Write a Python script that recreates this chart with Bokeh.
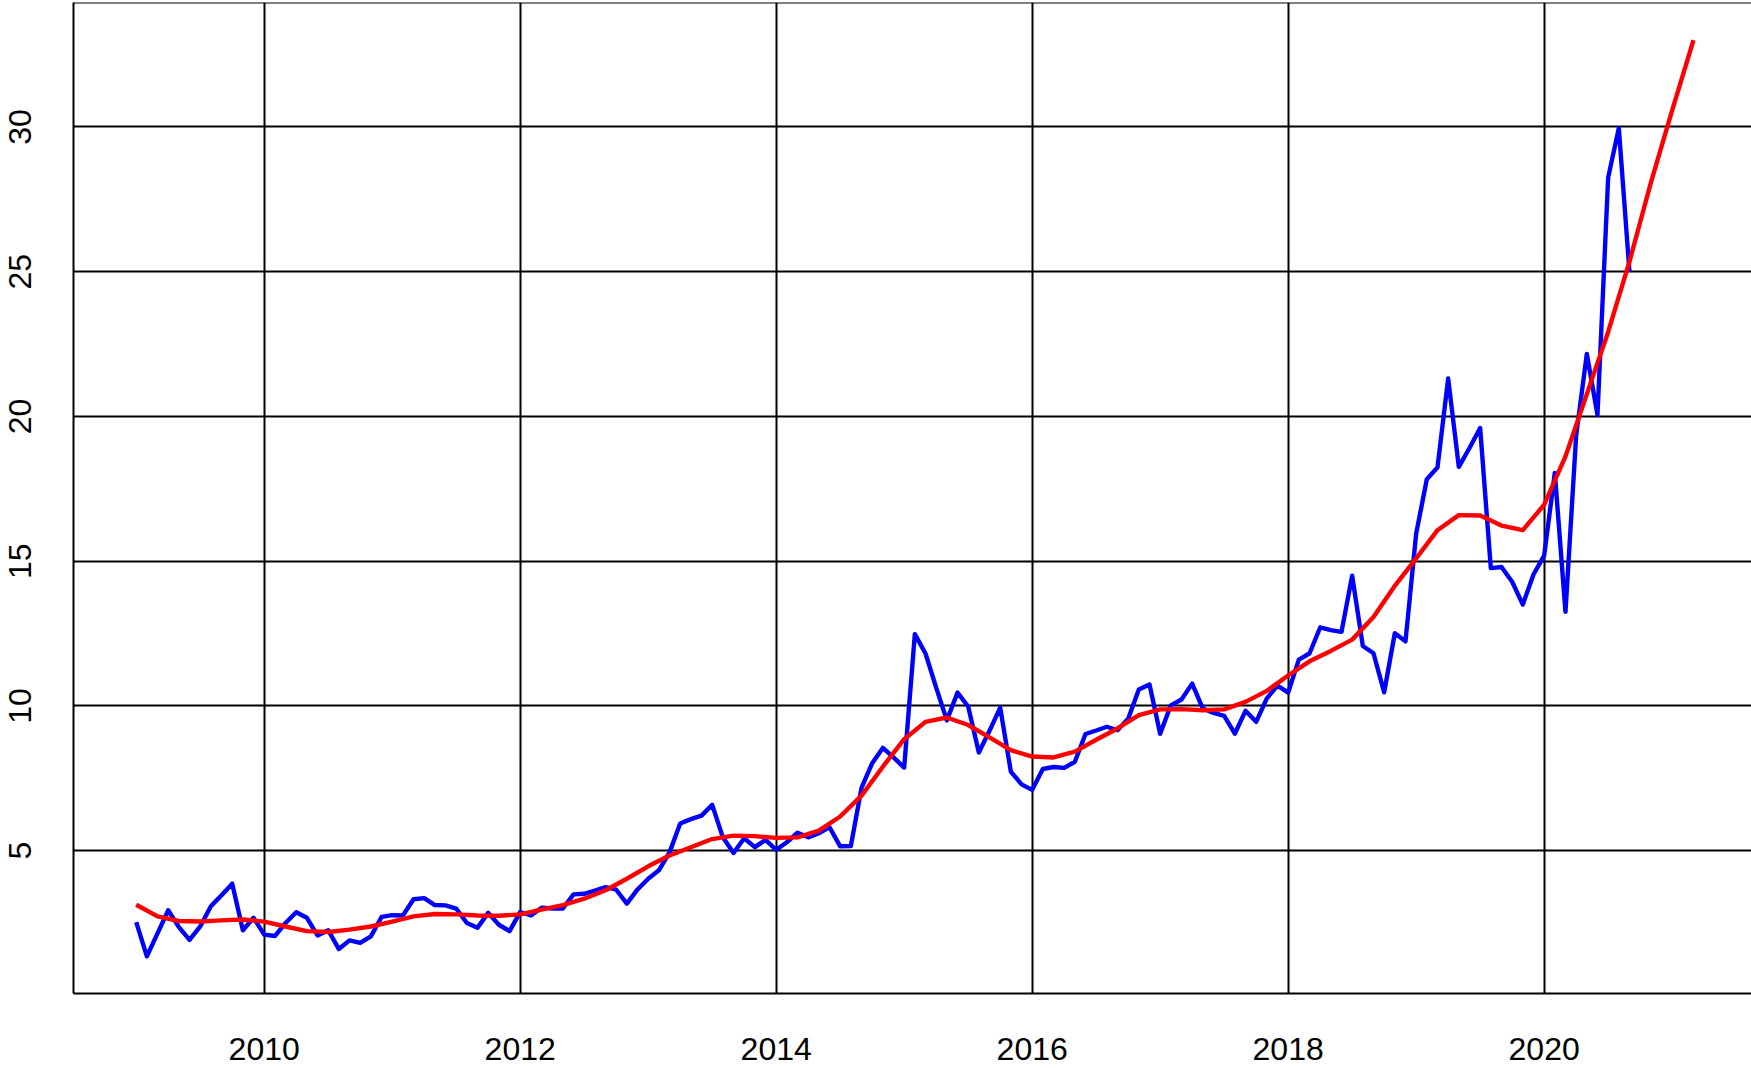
from bokeh.plotting import figure
from bokeh.models import FixedTicker, Span, Range1d
from bokeh.embed import file_html
from bokeh.resources import INLINE

# ---- data ----
start_year = 2009
monthly_values = [
    2.53, 1.35, 2.14, 2.94, 2.36, 1.92, 2.38, 3.08, 3.46, 3.86, 2.25, 2.68,
    2.10, 2.05, 2.50, 2.87, 2.68, 2.07, 2.25, 1.60, 1.90, 1.81, 2.04, 2.71,
    2.77, 2.76, 3.32, 3.36, 3.12, 3.11, 3.00, 2.50, 2.34, 2.85, 2.44, 2.22,
    2.88, 2.76, 3.03, 3.00, 3.00, 3.49, 3.51, 3.62, 3.74, 3.65, 3.17, 3.66,
    4.03, 4.32, 4.94, 5.94, 6.09, 6.21, 6.58, 5.46, 4.92, 5.43, 5.12, 5.37,
    5.03, 5.29, 5.62, 5.46, 5.60, 5.81, 5.15, 5.16, 7.17, 8.02, 8.55, 8.22,
    7.87, 12.48, 11.81, 10.63, 9.50, 10.46, 9.98, 8.39, 9.14, 9.94, 7.73, 7.29,
    7.10, 7.82, 7.89, 7.86, 8.07, 9.03, 9.15, 9.28, 9.16, 9.56, 10.57, 10.74,
    9.04, 10.02, 10.22, 10.77, 9.91, 9.76, 9.66, 9.04, 9.83, 9.45, 10.26, 10.70,
    10.46, 11.60, 11.81, 12.71, 12.62, 12.56, 14.50, 12.07, 11.82, 10.47, 12.51, 12.23,
    15.95, 17.83, 18.24, 21.31, 18.26, 18.91, 19.60, 14.76, 14.80, 14.29, 13.50, 14.54,
    15.19, 18.05, 13.25, 19.34, 22.16, 20.05, 28.25, 29.96, 24.99,
]
bimonthly_trend = [
    3.13, 2.73, 2.57, 2.55, 2.59, 2.62, 2.55, 2.38, 2.22, 2.19, 2.27, 2.38,
    2.55, 2.73, 2.81, 2.80, 2.76, 2.75, 2.80, 2.96, 3.12, 3.34, 3.63, 4.03,
    4.46, 4.83, 5.12, 5.40, 5.52, 5.50, 5.44, 5.46, 5.69, 6.18, 6.90, 7.90,
    8.85, 9.45, 9.60, 9.34, 8.91, 8.47, 8.25, 8.22, 8.42, 8.83, 9.22, 9.68,
    9.88, 9.89, 9.85, 9.88, 10.14, 10.52, 11.05, 11.54, 11.90, 12.29, 13.07, 14.15,
    15.10, 16.07, 16.59, 16.58, 16.23, 16.07, 16.95, 18.62, 20.77, 22.92, 25.35, 28.07,
    30.57, 33.00,
]
x_ticks = [2010, 2012, 2014, 2016, 2018, 2020]
y_ticks = [5, 10, 15, 20, 25, 30]

monthly_t = [start_year + i / 12 for i in range(len(monthly_values))]
trend_t = [start_year + 2 * k / 12 for k in range(len(bimonthly_trend))]

FONT = "Liberation Sans"
Y_TOP = 34.30

p = figure(
    width=1751, height=1068,
    x_range=Range1d(2008.51, 2021.62),
    y_range=Range1d(0.065, Y_TOP),
    output_backend="svg", toolbar_location=None,
    min_border_left=73, min_border_right=0, min_border_top=2, min_border_bottom=75,
)
p.outline_line_color = None
p.background_fill_color = "white"
p.border_fill_color = "white"

for ax, ticks in ((p.xaxis[0], x_ticks), (p.yaxis[0], y_ticks)):
    ax.ticker = FixedTicker(ticks=ticks)
    ax.axis_line_color = "black"
    ax.axis_line_width = 2
    ax.major_tick_line_color = None
    ax.minor_tick_line_color = None
    ax.major_label_text_font = FONT
    ax.major_label_text_font_size = "32px"
    ax.major_label_text_color = "black"

p.xaxis[0].major_label_standoff = 38
p.yaxis[0].major_label_standoff = 36
p.yaxis[0].major_label_orientation = "vertical"

p.xgrid.ticker = FixedTicker(ticks=x_ticks)
p.ygrid.ticker = FixedTicker(ticks=y_ticks)
for g in (p.xgrid[0], p.ygrid[0]):
    g.grid_line_color = "black"
    g.grid_line_width = 2
    g.grid_line_alpha = 1.0

p.add_layout(Span(location=Y_TOP, dimension="width", line_color="black", line_width=2))

p.line(monthly_t, monthly_values, line_color="#0000FF", line_width=4.4, line_join="round")
p.line(trend_t, bimonthly_trend, line_color="#FF0000", line_width=4.4, line_join="round")

open("out.html", "w").write(file_html(p, INLINE))
